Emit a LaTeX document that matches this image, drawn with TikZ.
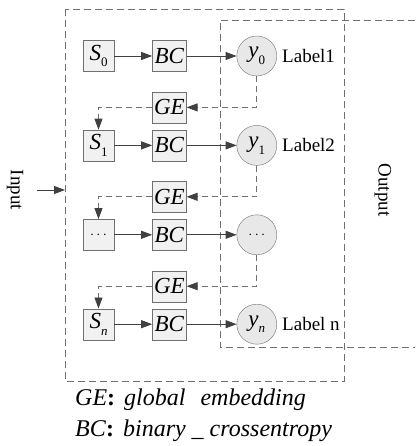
\documentclass[tikz,border=0pt]{standalone}
\usepackage{fontspec}
\setmainfont{Liberation Serif}
\usetikzlibrary{positioning,arrows.meta,calc}
\definecolor{boxgray}{RGB}{241,241,241}
\definecolor{ballgray}{RGB}{232,232,232}
\definecolor{linegray}{RGB}{64,64,64}
\definecolor{dashgray}{RGB}{112,112,112}
\newcommand{\idx}[2]{\textit{#1}\raisebox{-0.3em}{\fontsize{13}{13}\selectfont #2}}

\begin{document}
\begin{tikzpicture}[
        x=1pt, y=-1pt,
        font=\fontsize{23}{25}\selectfont,
        block/.style={rectangle, draw=dashgray, fill=boxgray, minimum height=31pt, minimum width=#1, inner sep=1pt},
        block/.default=31pt,
        ball/.style={circle, draw=dashgray, fill=ballgray, minimum size=40pt, inner sep=0pt},
        tag/.style={font=\fontsize{19}{21}\selectfont, inner sep=0pt},
        arrow/.style={-{Triangle[length=11pt,width=8pt]}, draw=linegray, line width=0.8pt},
        feed/.style={-{Triangle[length=11pt,width=8pt,color=linegray]}, draw=dashgray, line width=0.8pt, dash pattern=on 6pt off 4pt},
        frame/.style={draw=dashgray, line width=0.8pt, dash pattern=on 7pt off 4pt}
    ]
        \useasboundingbox (0,0) rectangle (415,446);

        % dashed frames
        \draw[frame] (65,9) rectangle (344,381);
        \draw[frame] (415,20) -- (220,20) -- (220,347) -- (415,347);

        % rows
        \node[block] (s0) at (98.5,56) {\idx{S}{0}};
        \node[block=34pt, right=38pt of s0] (bc0) {\textit{BC}};
        \node[ball, right=50pt of bc0] (y0) {\idx{y}{0}};
        \node[tag, right=5pt of y0] (l0) {Label1};
        \node[block=34pt, below=20pt of bc0] (ge0) {\textit{GE}};

        \node[block, below=58pt of s0] (s1) {\idx{S}{1}};
        \node[block=34pt, right=38pt of s1] (bc1) {\textit{BC}};
        \node[ball, right=50pt of bc1] (y1) {\idx{y}{1}};
        \node[tag, right=5pt of y1] (l1) {Label2};
        \node[block=34pt, below=20pt of bc1] (ge1) {\textit{GE}};

        \node[block, below=58pt of s1] (s2) {\fontsize{15}{15}\selectfont$\cdots$};
        \node[block=34pt, right=38pt of s2] (bc2) {\textit{BC}};
        \node[ball, right=50pt of bc2] (y2) {\fontsize{15}{15}\selectfont$\cdots$};
        \node[block=34pt, below=20pt of bc2] (ge2) {\textit{GE}};

        \node[block, below=58pt of s2] (sn) {\idx{S}{\textit{n}}};
        \node[block=34pt, right=38pt of sn] (bcn) {\textit{BC}};
        \node[ball, right=50pt of bcn] (yn) {\idx{y}{\textit{n}}};
        \node[tag, right=5pt of yn] (ln) {Label n};

        % forward arrows
        \draw[arrow] (s0) -- (bc0);
        \draw[arrow] (bc0) -- (y0);
        \draw[arrow] (s1) -- (bc1);
        \draw[arrow] (bc1) -- (y1);
        \draw[arrow] (s2) -- (bc2);
        \draw[arrow] (bc2) -- (y2);
        \draw[arrow] (sn) -- (bcn);
        \draw[arrow] (bcn) -- (yn);

        % feedback
        \draw[feed] (y0.south) |- (ge0.east);
        \draw[feed] (ge0.west) -| (s1.north);
        \draw[feed] (y1.south) |- (ge1.east);
        \draw[feed] (ge1.west) -| (s2.north);
        \draw[feed] (y2.south) |- (ge2.east);
        \draw[feed] (ge2.west) -| (sn.north);

        % input / output
        \node[tag, rotate=-90] (input) at (15,190) {Input};
        \coordinate (intail) at (37,190);
        \coordinate (inhead) at (65,190);
        \draw[arrow] (intail) -- (inhead);
        \node[tag, rotate=-90] (output) at (383,190) {Output};

        % legend
        \node[anchor=base west, inner sep=0pt, font=\fontsize{24}{26}\selectfont] (keyge) at (75,405)
            {\textit{GE}\textbf{:}\hspace{9pt}\textit{global}\hspace{15pt}\textit{embedding}};
        \node[anchor=base west, inner sep=0pt, font=\fontsize{24}{26}\selectfont] (keybc) at (75,436)
            {\textit{BC}\textbf{:}\hspace{9pt}\textit{binary \_ crossentropy}};
    \end{tikzpicture}
\end{document}
